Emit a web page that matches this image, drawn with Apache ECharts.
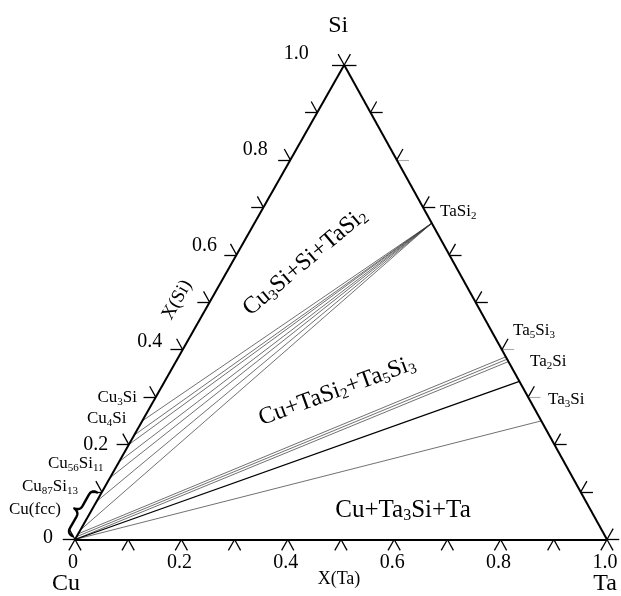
<!DOCTYPE html>
<html><head><meta charset="utf-8">
<script src="https://cdn.jsdelivr.net/npm/echarts@6/dist/echarts.min.js"></script>
<style>html,body{margin:0;padding:0;background:#fff}#c{width:621px;height:596px}</style>
</head><body><div id="c"></div>
<script>
// ---- data ----
const tickValues = [0, 0.1, 0.2, 0.3, 0.4, 0.5, 0.6, 0.7, 0.8, 0.9, 1.0];
const labelValues = [0, 0.2, 0.4, 0.6, 0.8, 1.0];
const tickLabels = ['0', '0.2', '0.4', '0.6', '0.8', '1.0'];
const grayRightTicks = [0.3, 0.4, 0.8];
// TaSi2 composition [Ta, Si]
const taSi2 = [1 / 3, 2 / 3];
// Si fraction on the Cu-Si side of each tie line to TaSi2
const upperTieSi = [0.25, 0.22, 0.2, 0.164, 0.13, 0.08, 0.02];
// Lower fan: Si fraction on Cu-Si side (start) and on Ta-Si side (end)
const lowerThinStartSi = [0, 0.006, 0.012, 0];
const lowerThinEndSi = [0.375, 0.38, 0.385, 0.25];
const ta2SiLineStartSi = [0];
const ta2SiLineEndSi = [1 / 3];
// Cu(fcc) solubility range on the Cu-Si side (Si fraction)
const cuFccRange = [0.003, 0.095];
const vertexNames = ['Cu', 'Ta', 'Si'];

// ---- geometry helpers ----
const SKEW = 0.506;
const D = 0.023;
function xy(ta, si) { return [ta + SKEW * si, si]; }
function seg(a, b) { return { coords: [a, b] }; }

const edges = [seg(xy(0, 0), xy(1, 0)), seg(xy(1, 0), xy(0, 1)), seg(xy(0, 1), xy(0, 0))];
const ticksBlack = [], ticksGray = [];
tickValues.forEach(v => {
  ticksBlack.push(seg(xy(v, 0), xy(v, -D)));
  ticksBlack.push(seg(xy(v, 0), xy(v + D, -D)));
  ticksBlack.push(seg(xy(0, v), xy(-D, v)));
  ticksBlack.push(seg(xy(0, v), xy(-D, v + D)));
  const h = seg(xy(1 - v, v), xy(1 - v + D, v));
  if (grayRightTicks.some(g => Math.abs(g - v) < 1e-9)) ticksGray.push(h); else ticksBlack.push(h);
  ticksBlack.push(seg(xy(1 - v, v), xy(1 - v, v + D)));
});
const upperTies = upperTieSi.map(s => seg(xy(0, s), xy(taSi2[0], taSi2[1])));
const lowerThin = lowerThinStartSi.map((s, i) => seg(xy(0, s), xy(1 - lowerThinEndSi[i], lowerThinEndSi[i])));
const lowerThick = ta2SiLineStartSi.map((s, i) => seg(xy(0, s), xy(1 - ta2SiLineEndSi[i], ta2SiLineEndSi[i])));

function lines(data, color, width) {
  return { type: 'lines', coordinateSystem: 'cartesian2d', clip: false, silent: true,
    polyline: false, lineStyle: { color: color, width: width, opacity: 1 }, data: data, animation: false };
}

const chart = echarts.init(document.getElementById('c'), null, { renderer: 'canvas' });
chart.setOption({
  animation: false,
  backgroundColor: '#fff',
  grid: { left: 75, top: 65, width: 532, height: 474.5 },
  xAxis: { type: 'value', min: 0, max: 1, show: false },
  yAxis: { type: 'value', min: 0, max: 1, show: false },
  series: [
    lines(upperTies, '#333', 0.7),
    lines(lowerThin, '#333', 0.7),
    lines(lowerThick, '#000', 1.3),
    lines(ticksGray, '#aaa', 1.1),
    lines(ticksBlack, '#000', 1.3),
    lines(edges, '#000', 2)
  ]
});

// ---- text ----
const FF = '"Liberation Serif", "Times New Roman", serif';
function rich(str) {
  const parts = str.split(/(_\d+)/).filter(p => p.length);
  return parts.map(p => p[0] === '_' ? '{s|' + p.slice(1) + '}' : '{n|' + p + '}').join('');
}
function richStyle(size) {
  return {
    n: { fontFamily: FF, fontSize: size, lineHeight: size + 2, fill: '#000' },
    s: { fontFamily: FF, fontSize: Math.round(size * 0.62), lineHeight: Math.round(size * 0.62), verticalAlign: 'bottom', fill: '#000' }
  };
}
function txt(str, x, y, size, opts) {
  opts = opts || {};
  return {
    type: 'text', x: x, y: y, rotation: opts.rot || 0, silent: true, z: 10,
    style: {
      text: rich(str), rich: richStyle(size), fill: '#000',
      font: size + 'px ' + FF,
      align: opts.align || 'center', verticalAlign: 'middle'
    }
  };
}
const px = p => chart.convertToPixel({ gridIndex: 0 }, p);
const g = [];
labelValues.forEach((v, i) => {
  const p = px(xy(v, 0));
  g.push(txt(tickLabels[i], p[0] - 2, 563, 20));
});
const leftOff = [[-27, -2], [-33, 0], [-33, -8], [-32, -9], [-35, -10], [-48, -11]];
labelValues.forEach((v, i) => {
  const p = px(xy(0, v));
  g.push(txt(tickLabels[i], p[0] + leftOff[i][0], p[1] + leftOff[i][1], 20));
});
const vCu = px(xy(0, 0)), vTa = px(xy(1, 0)), vSi = px(xy(0, 1));
g.push(txt(vertexNames[0], vCu[0] - 9, 584, 24));
g.push(txt(vertexNames[1], vTa[0] - 2, 584, 24));
g.push(txt(vertexNames[2], vSi[0] - 6, 26, 24));
g.push(txt('X(Ta)', 339, 579, 18));
g.push(txt('X(Si)', 177, 300, 19, { rot: 1.055 }));
g.push(txt('Cu_3Si+Si+TaSi_2', 305, 262, 24, { rot: 0.70 }));
g.push(txt('Cu+TaSi_2+Ta_5Si_3', 337, 391, 24, { rot: 0.35 }));
g.push(txt('Cu+Ta_3Si+Ta', 403, 510, 25));
g.push(txt('TaSi_2', 440, 212, 17, { align: 'left' }));
g.push(txt('Ta_5Si_3', 513, 331, 17, { align: 'left' }));
g.push(txt('Ta_2Si', 530, 362, 17, { align: 'left' }));
g.push(txt('Ta_3Si', 548, 400, 17, { align: 'left' }));
g.push(txt('Cu_3Si', 137, 398, 17, { align: 'right' }));
g.push(txt('Cu_4Si', 87, 419, 17, { align: 'left' }));
g.push(txt('Cu_56Si_11', 48, 464, 17, { align: 'left' }));
g.push(txt('Cu_87Si_13', 22, 487, 17, { align: 'left' }));
g.push(txt('Cu(fcc)', 9, 510, 17, { align: 'left' }));

// curly brace along the Cu-Si edge marking the Cu(fcc) range
(function () {
  const p0 = px(xy(0, cuFccRange[0])), p1 = px(xy(0, cuFccRange[1]));
  const L = Math.hypot(p1[0] - p0[0], p1[1] - p0[1]);
  const u = [(p1[0] - p0[0]) / L, (p1[1] - p0[1]) / L];
  const n = [u[1], -u[0]]; // outward, away from triangle interior
  const P = (a, b) => [p0[0] + a * u[0] + b * n[0], p0[1] + a * u[1] + b * n[1]];
  const bE = 4, bM = 10, bT = 16, am = L / 2;
  const pts = [];
  function quad(a0, b0, ac, bc, a1, b1) {
    for (let i = 0; i <= 12; i++) {
      const t = i / 12, m = 1 - t;
      pts.push(P(m * m * a0 + 2 * m * t * ac + t * t * a1, m * m * b0 + 2 * m * t * bc + t * t * b1));
    }
  }
  quad(0, bE, 0, bM, 6, bM);
  quad(am - 6, bM, am - 1, bM, am, bT);
  quad(am, bT, am + 1, bM, am + 6, bM);
  quad(L - 6, bM, L, bM, L, bE);
  g.push({ type: 'polyline', silent: true, z: 10, shape: { points: pts },
    style: { fill: null, stroke: '#000', lineWidth: 2.4, lineCap: 'round', lineJoin: 'round' } });
})();
chart.setOption({ graphic: { elements: g } });
</script></body></html>
